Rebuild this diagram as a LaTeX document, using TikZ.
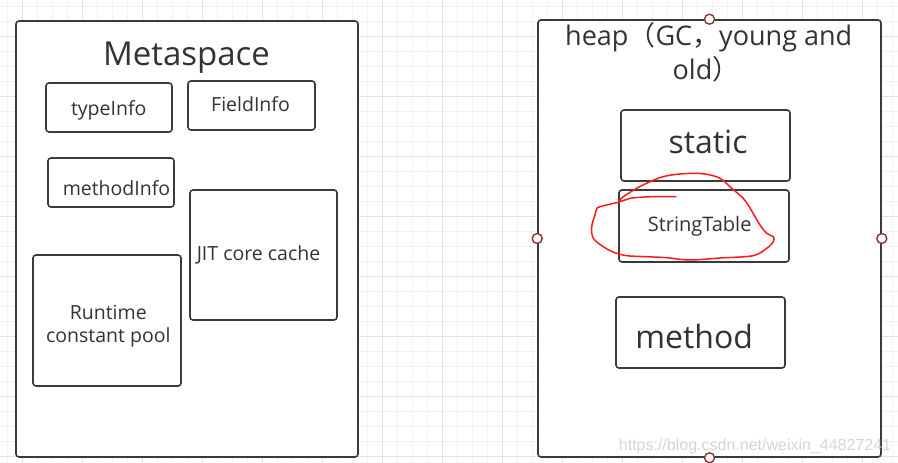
\documentclass[tikz,border=0pt]{standalone}
\usepackage{fontspec}
\setmainfont{Open Sans}
\newfontfamily\cjk{Noto Sans CJK SC}
\newfontfamily\wmfont{Liberation Sans}
\definecolor{textcol}{HTML}{333333}
\definecolor{boxcol}{HTML}{3A3A3A}
\definecolor{gridminor}{HTML}{F1F1F1}
\definecolor{gridmajor}{HTML}{E3E3E3}
\definecolor{handlecol}{HTML}{8A3434}
\definecolor{inkred}{HTML}{FF1A1A}
\definecolor{wmcol}{HTML}{D6D6D6}
\tikzset{
  panel/.style={draw=boxcol, line width=1.6pt, fill=white, rounded corners=3pt, rectangle, inner sep=0pt},
  cell/.style={draw=boxcol, line width=1.6pt, fill=white, rounded corners=3pt, rectangle, inner sep=0pt},
  txt/.style={anchor=base, inner sep=0pt, text=textcol},
  handle/.style={circle, draw=handlecol, line width=1.4pt, fill=white, minimum size=10pt, inner sep=0pt},
}
\newcommand{\fs}[1]{\fontsize{#1}{#1}\selectfont}
\begin{document}
\begin{tikzpicture}[x=1pt,y=-1pt]
\useasboundingbox (0,0) rectangle (898,463);
\fill[white] (0,0) rectangle (898,463);
% grid
\foreach \i in {0,...,59} {\draw[gridminor, line width=1pt] ({7.3+15*\i},0) -- ({7.3+15*\i},463);}
\foreach \i in {0,...,30} {\draw[gridminor, line width=1pt] (0,{6+15*\i}) -- (898,{6+15*\i});}
\foreach \i in {0,...,14} {\draw[gridmajor, line width=1pt] ({22.3+60*\i},0) -- ({22.3+60*\i},463);}
\foreach \i in {0,...,7} {\draw[gridmajor, line width=1pt] (0,{36+60*\i}) -- (898,{36+60*\i});}

% Metaspace panel
\node[panel, minimum width=342pt, minimum height=436pt] (meta) at (187,239) {};
\node[txt, font=\fs{33}] (metaT) at (186.5,65.7) {Metaspace};
\node[cell, minimum width=126pt, minimum height=49pt] (type) at (109,107.5) {};
\node[txt, font=\fs{19.5}] (typeT) at (108.7,115) {typeInfo};
\node[cell, minimum width=127pt, minimum height=49pt] (field) at (251.5,105.5) {};
\node[txt, font=\fs{19.5}] (fieldT) at (250.5,111.7) {FieldInfo};
\node[cell, minimum width=126pt, minimum height=49pt] (mi) at (111,182.5) {};
\node[txt, font=\fs{19.5}] (miT) at (116.5,195) {methodInfo};
\node[cell, minimum width=147pt, minimum height=130pt] (jit) at (263.5,255) {};
\node[txt, font=\fs{19.5}] (jitT) at (258.5,260.7) {JIT core cache};
\node[cell, minimum width=148pt, minimum height=131pt] (rcp) at (107,320.5) {};
\node[txt, font=\fs{19.5}] (rcpT1) at (108.3,319) {Runtime};
\node[txt, font=\fs{19.5}] (rcpT2) at (108.3,342.3) {constant pool};

% heap panel
\node[panel, minimum width=343pt, minimum height=437pt] (heap) at (709.5,238.5) {};
\node[txt, font=\fs{27}] (heapT1) at (708.7,45.7) {heap{\cjk （}GC{\cjk ，}young and};
\node[txt, font=\fs{27}] (heapT2) at (706,79) {old{\cjk ）}};
\node[cell, minimum width=169pt, minimum height=71pt] (static) at (705.5,145.5) {};
\node[txt, font=\fs{32}] (staticT) at (708,153.3) {static};
\node[cell, minimum width=170pt, minimum height=72pt] (st) at (704,226) {};
\node[txt, font=\fs{20}] (stT) at (699.7,231.7) {StringTable};
\node[cell, minimum width=169pt, minimum height=71pt] (meth) at (700.5,332.5) {};
\node[txt, font=\fs{32}] (methT) at (694.2,348.3) {method};

% handles
\node[handle] (hN) at (heap.north) {};
\node[handle] (hW) at (heap.west) {};
\node[handle] (hE) at (heap.east) {};
\node[handle] (hS) at (heap.south) {};

% red freehand mark
\draw[inkred, line width=1.5pt, line cap=round, line join=round] plot[smooth, tension=0.55] coordinates {
(676,196.7) (651.7,196.7) (630,198.3) (620,201.7) (600,206.7) (596.7,209) (595,215) (591.7,226.7) (593.3,238.3) (603.3,246.7) (613,252) (626.7,255.7) (646.7,256.7) (666.7,257.7) (690,260) (720,258) (753,255.7) (766.7,248.3) (773.3,241.7) (773.3,236.7) (766.7,233.3) (760,225) (750,208) (743,198) (731.7,188.3) (720,178.3) (706.7,174.3) (693.3,173.3) (676.7,174.3) (663,176.7) (650,181.7) (636.7,188.3) (623.3,196.7) (619,201)};

% watermark
\node[anchor=base, inner sep=0pt, text=wmcol, font=\wmfont\fs{16}] (wm) at (755,450) {https://blog.csdn.net/weixin\_44827241};
\end{tikzpicture}
\end{document}
